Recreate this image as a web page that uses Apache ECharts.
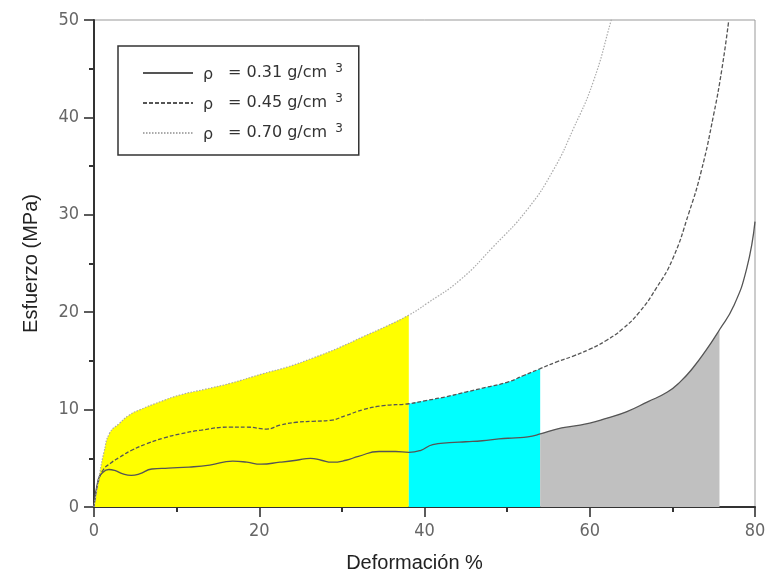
<!DOCTYPE html>
<html>
<head>
<meta charset="utf-8">
<script src="https://cdn.jsdelivr.net/npm/echarts@6/dist/echarts.min.js"></script>
<style>
  html, body { margin: 0; padding: 0; background: #fff; }
  #chart { width: 766px; height: 573px; }
</style>
</head>
<body>
<div id="chart"></div>
<script>
// deformation % / stress MPa pairs
const rho031 = [
  [0, 0], [0.5, 2.8], [1, 3.5], [1.8, 3.85], [2.5, 3.75], [3.5, 3.4], [4.5, 3.25], [5.5, 3.4],
  [7, 3.9], [9, 4.0], [11.5, 4.1], [14, 4.3], [16.8, 4.7], [18.5, 4.6], [20.2, 4.4], [22.5, 4.6],
  [24.5, 4.8], [26.2, 5.0], [27.5, 4.8], [28.8, 4.6], [30.5, 4.8], [32, 5.2], [34.5, 5.7], [36.5, 5.7],
  [38.1, 5.6], [39.5, 5.8], [41, 6.4], [43, 6.6], [45, 6.7], [47, 6.8], [49, 7.0], [51, 7.1],
  [52.5, 7.2], [54, 7.5], [56, 8.0], [58, 8.3], [60, 8.6], [62, 9.1], [64.5, 9.8], [67, 10.8],
  [69.4, 11.8], [71, 12.9], [72.5, 14.3], [74, 16.0], [75.7, 18.2], [77.4, 20.6], [79, 24.5], [80, 29.3]
]
const rho045 = [
  [0, 0], [0.5, 2.5], [1.1, 3.8], [2, 4.5], [3.1, 5.1], [4.5, 5.8], [6.4, 6.5], [8.5, 7.1],
  [10.4, 7.5], [13, 7.9], [16.5, 8.2], [18.5, 8.2], [20.9, 8.0], [22.5, 8.4], [24.5, 8.7], [26.5, 8.8],
  [28.6, 8.9], [30.5, 9.4], [32.6, 10.0], [35, 10.4], [38.1, 10.6], [40, 10.9], [42.5, 11.3], [45, 11.8],
  [47.5, 12.3], [50, 12.8], [52, 13.5], [54, 14.2], [56, 14.9], [58, 15.5], [60, 16.2], [62, 17.1],
  [64, 18.3], [66, 20.0], [68, 22.4], [70, 25.4], [72, 30.2], [73.5, 34.5], [75, 40.3], [76, 45.0], [76.8, 49.8]
]
const rho070 = [
  [0, 0], [0.3, 1.5], [0.7, 3.5], [1.2, 5.6], [1.9, 7.6], [3.1, 8.6], [4.2, 9.4], [5.6, 10.0],
  [8, 10.8], [10.4, 11.5], [13.5, 12.1], [16.5, 12.7], [20.5, 13.7], [23.5, 14.4], [26.5, 15.3],
  [29.5, 16.3], [32.6, 17.5], [35.5, 18.6], [38.1, 19.7], [40.3, 20.9], [44.3, 23.3], [48.3, 26.7],
  [52.4, 30.5], [55.6, 34.6], [58, 38.8], [60.4, 43.6], [62.6, 50], [63.2, 52]
]
const seriesNames = ['ρ = 0.31 g/cm3', 'ρ = 0.45 g/cm3', 'ρ = 0.70 g/cm3']
const legendValues = ['0.31', '0.45', '0.70']
// shaded zones: [from, to] in deformation %
const yellowZone = [0, 38.1]
const cyanZone = [38.1, 54]
const grayZone = [54, 75.7]

const chart = echarts.init(document.getElementById('chart'))

const slice = (data, zone) => data.filter(p => p[0] >= zone[0] && p[0] <= zone[1])

const fillSeries = (data, zone, color) => ({
  type: 'line',
  data: slice(data, zone),
  smooth: 0.5,
  symbol: 'none',
  silent: true,
  z: 1,
  lineStyle: { width: 0 },
  areaStyle: { color: color, opacity: 1 }
})

const curve = (name, data, color, type, width) => ({
  name: name,
  type: 'line',
  data: data,
  smooth: 0.5,
  symbol: 'none',
  z: 3,
  lineStyle: { color: color, width: width, type: type },
  itemStyle: { color: color }
})

const tickFont = '"DejaVu Sans Condensed", sans-serif'

const axisCommon = {
  axisLine: { lineStyle: { color: '#333', width: 2 } },
  axisTick: { length: 10, lineStyle: { color: '#333', width: 1.6 } },
  minorTick: { show: true, splitNumber: 2, length: 5, lineStyle: { color: '#333', width: 2 } },
  splitLine: { show: false },
  axisLabel: { color: '#666', fontSize: 18, fontFamily: tickFont, margin: 15 },
  nameTextStyle: { color: '#222', fontSize: 20, fontFamily: 'Liberation Sans' }
}

const richBase = { fontSize: 16, color: '#333', fontFamily: 'DejaVu Sans', lineHeight: 20 }

const option = {
  animation: false,
  grid: {
    left: 94, right: 11, top: 20, bottom: 66,
    outerBoundsMode: 'none',
    show: true, borderColor: '#999', borderWidth: 1
  },
  legend: {
    data: seriesNames,
    orient: 'vertical',
    left: 118,
    top: 46,
    padding: [17, 16, 12, 24],
    itemWidth: 50,
    itemHeight: 14,
    itemGap: 10,
    borderColor: '#333',
    borderWidth: 1.5,
    itemStyle: { opacity: 0 },
    formatter: name => '{r|ρ}{t|= ' + legendValues[seriesNames.indexOf(name)] + ' g/cm}{s|3}',
    textStyle: {
      rich: {
        r: Object.assign({}, richBase, { width: 25, lineHeight: 14, verticalAlign: 'bottom', padding: [0, 0, 0, 5] }),
        t: Object.assign({}, richBase),
        s: Object.assign({}, richBase, { fontSize: 12, lineHeight: 12, verticalAlign: 'top', padding: [0, 0, 0, 8] })
      }
    }
  },
  xAxis: Object.assign({}, axisCommon, {
    type: 'value', min: 0, max: 80, interval: 20,
    name: 'Deformación %', nameLocation: 'middle', nameGap: 46,
    nameTextStyle: Object.assign({}, axisCommon.nameTextStyle, { padding: [0, 20, 0, 0] })
  }),
  yAxis: Object.assign({}, axisCommon, {
    type: 'value', min: 0, max: 50, interval: 10,
    name: 'Esfuerzo (MPa)', nameLocation: 'middle', nameGap: 53
  }),
  series: [
    fillSeries(rho070, yellowZone, '#FFFF00'),
    fillSeries(rho045, cyanZone, '#00FFFF'),
    fillSeries(rho031, grayZone, '#C0C0C0'),
    curve(seriesNames[0], rho031, '#555', 'solid', 1.3),
    curve(seriesNames[1], rho045, '#555', [4, 2], 1.3),
    curve(seriesNames[2], rho070, '#aaa', [1.5, 1.5], 1.2)
  ]
}

chart.setOption(option)
</script>
</body>
</html>
